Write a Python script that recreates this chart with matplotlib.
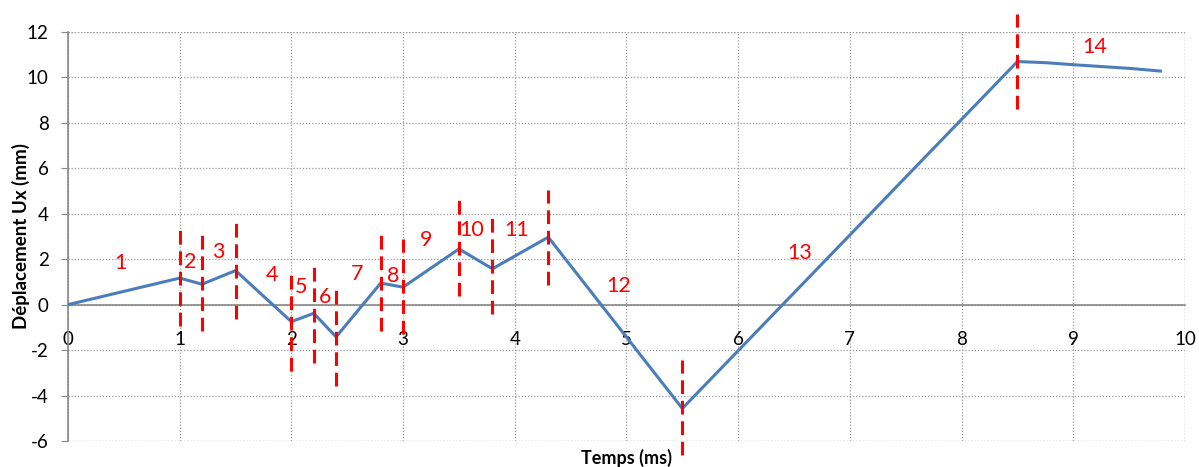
import matplotlib.pyplot as plt

plt.rcParams['font.family'] = ['Lato', 'DejaVu Sans']
plt.rcParams['axes.unicode_minus'] = False

# courbe deplacement Ux en fonction du temps
temps = [0.0, 1.0, 1.2, 1.5, 2.0, 2.2, 2.4, 2.8, 3.0, 3.5, 3.8, 4.3, 5.5,
         8.5, 8.75, 9.0, 9.25, 9.5, 9.78]
ux = [0.0, 1.17, 0.9, 1.5, -0.75, -0.38, -1.42, 0.95, 0.77, 2.45, 1.58, 2.97, -4.57,
      10.7, 10.65, 10.56, 10.48, 10.4, 10.28]

# limites de phases : abscisse, bas et haut du trait
phases_x = [1.0, 1.2, 1.5, 2.0, 2.2, 2.4, 2.8, 3.0, 3.5, 3.8, 4.3, 5.5, 8.5]
phases_bas = [-0.95, -1.15, -0.65, -2.9, -2.55, -3.6, -1.15, -1.3, 0.4, -0.4, 0.85, -6.6, 8.6]
phases_haut = [3.35, 3.1, 3.6, 1.35, 1.7, 0.7, 3.1, 2.9, 4.6, 3.8, 5.05, -2.45, 12.8]

# numeros des phases
numeros = ['1', '2', '3', '4', '5', '6', '7', '8', '9', '10', '11', '12', '13', '14']
numeros_x = [0.47, 1.09, 1.35, 1.83, 2.09, 2.30, 2.59, 2.91, 3.21, 3.61, 4.02, 4.93, 6.55, 9.19]
numeros_y = [1.85, 1.86, 2.3, 1.32, 0.79, 0.35, 1.35, 1.28, 2.85, 3.29, 3.29, 0.84, 2.29, 11.33]

fig = plt.figure(figsize=(11.99, 4.67), dpi=100)
ax = fig.add_axes([0.0567, 0.0557, 0.9316, 0.8758])

ax.plot(temps, ux, color='#4A7EBB', lw=2.2, zorder=3)

for x, y0, y1 in zip(phases_x, phases_bas, phases_haut):
    ax.plot([x, x], [y0, y1], color='#FF0000', lw=2.2, dashes=(4.5, 2.2),
            clip_on=False, zorder=4)

for txt, x, y in zip(numeros, numeros_x, numeros_y):
    ax.text(x, y, txt, color='#FF0000', fontsize=15.5, ha='center', va='center', zorder=5)

ax.set_xlim(0, 10)
ax.set_ylim(-6, 12)
ax.set_xticks(range(0, 11))
ax.set_yticks(range(-6, 13, 2))

ax.grid(True, color='#999999', linestyle=(0, (1, 1.5)), lw=0.9)
ax.set_axisbelow(True)

for s in ['top', 'right']:
    ax.spines[s].set_visible(False)
ax.spines['bottom'].set_position(('data', 0))
ax.spines['bottom'].set_color('#888888')
ax.spines['left'].set_color('#888888')
ax.spines['bottom'].set_linewidth(1.2)
ax.spines['left'].set_linewidth(1.2)

# bordures pointillees haut, droite et bas
ax.axhline(12, color='#999999', linestyle=(0, (1, 1.5)), lw=0.9, zorder=0)
ax.axhline(-6, color='#999999', linestyle=(0, (1, 1.5)), lw=0.9, zorder=0)
ax.axvline(10, color='#999999', linestyle=(0, (1, 1.5)), lw=0.9, zorder=0)

ax.tick_params(axis='y', direction='out', length=5, color='#888888', labelsize=13.5, pad=9)
ax.tick_params(axis='x', direction='out', length=0, labelsize=13.5, pad=19)

ax.set_xlabel('Temps (ms)', fontsize=13, fontweight='bold')
ax.xaxis.set_label_coords(0.5, -0.02, transform=ax.transAxes)
ax.xaxis.label.set_va('top')
ax.set_ylabel('Déplacement Ux (mm)', fontsize=13.5, fontweight='bold')
ax.yaxis.set_label_coords(-0.034, 0.5, transform=ax.transAxes)

fig.savefig('out.png', dpi=100)
